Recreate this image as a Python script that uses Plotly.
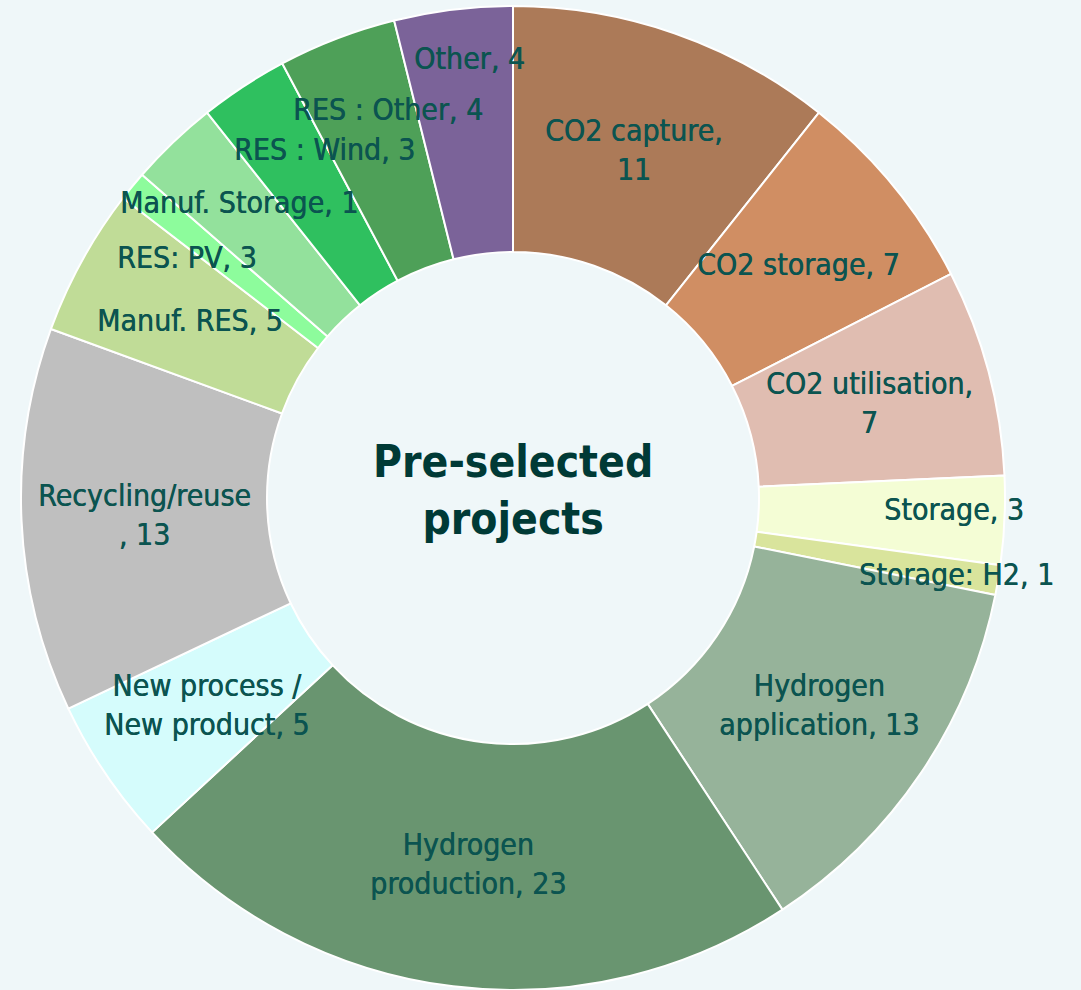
import math
import plotly.graph_objects as go

# ---- data (clockwise from 12 o'clock) ----
names = ["CO2 capture", "CO2 storage", "CO2 utilisation", "Storage", "Storage: H2",
         "Hydrogen<br>application", "Hydrogen<br>production", "New process /<br>New product",
         "Recycling/reuse<br>", "Manuf. RES", "Manuf. Storage", "RES: PV",
         "RES : Wind", "RES : Other", "Other"]
values = [11, 7, 7, 3, 1, 13, 23, 5, 13, 5, 1, 3, 3, 4, 4]
separators = [",<br>", ", ", ",<br>", ", ", ", ", ", ", ", ", ", ", ", ", ", ", ", ", ", ",
              ", ", ", ", ", "]
colors = ["#ac7a58", "#d08e63", "#e0bdb1", "#f4fdd5", "#d9e49c", "#96b39a", "#699570",
          "#d5fcfc", "#bfbfbf", "#c0dc97", "#8dfc9c", "#93e19c", "#2fc05f", "#4ea058", "#7b6399"]
# label nudges in pixels (dx, dy: +right, +down) for crowded labels
nudges = [(0, 0), (0, 0), (0, 0), (72, -5), (80, 15), (0, 0), (0, 0), (0, 0), (0, 0),
          (0, 0), (11, -62), (-71, 26), (14, -40), (7, -44), (1, -73)]

W, H = 1081, 990
dom_x = [20 / W, 1006 / W]
dom_y = [0.0, 984 / H]
cx = (dom_x[0] + dom_x[1]) / 2 * W
cy = (dom_y[0] + dom_y[1]) / 2 * H
R = min((dom_x[1] - dom_x[0]) * W, (dom_y[1] - dom_y[0]) * H) / 2

label_color = "#0b5450"
font_family = "DejaVu Sans Condensed, Roboto, sans-serif"

fig = go.Figure(go.Pie(
    labels=[n.replace("<br>", " ") for n in names],
    values=values,
    sort=False,
    direction="clockwise",
    rotation=0,
    hole=0.5,
    marker=dict(colors=colors, line=dict(color="white", width=2)),
    textinfo="none",
    domain=dict(x=dom_x, y=dom_y),
    showlegend=False,
))

total = sum(values)
cum = 0
annotations = []
for n, v, sep, (dx, dy) in zip(names, values, separators, nudges):
    mid = (cum + v / 2) / total * 2 * math.pi
    cum += v
    r = 0.75 * R
    px = cx + r * math.sin(mid) + dx
    py = cy + r * math.cos(mid) - dy
    annotations.append(dict(
        x=px / W, y=py / H, xref="paper", yref="paper",
        text=f"{n}{sep}{v}", showarrow=False,
        font=dict(size=30, color=label_color, family=font_family,
                  shadow=f"0.5px 0px 0px {label_color}"),
        xanchor="center", yanchor="middle",
    ))

annotations.append(dict(
    x=cx / W, y=(cy + 8) / H, xref="paper", yref="paper",
    text="<b>Pre-selected<br>projects</b>", showarrow=False,
    font=dict(size=44, color="#003a36", family=font_family),
    xanchor="center", yanchor="middle",
))

fig.update_layout(
    width=W, height=H,
    margin=dict(l=0, r=0, t=0, b=0),
    paper_bgcolor="#eff7f9",
    plot_bgcolor="#eff7f9",
    annotations=annotations,
)

fig.write_html("out.html", config={"displayModeBar": False},
               post_script="document.body.style.margin='0';")
